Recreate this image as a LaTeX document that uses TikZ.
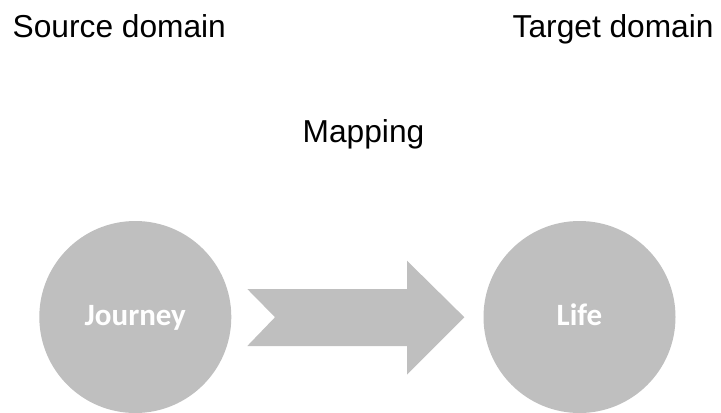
\documentclass[tikz,border=0pt]{standalone}
\usepackage{fontspec}
\setmainfont{Liberation Sans}
\newfontfamily\labelfont{Carlito}
\definecolor{shapegray}{RGB}{191,191,191}
\begin{document}
\begin{tikzpicture}[x=1bp,y=-1bp,
  title/.style={font=\fontsize{31.7bp}{36bp}\selectfont, text=black, inner sep=0pt, anchor=base west},
  domaincircle/.style={circle, fill=shapegray, minimum size=192bp, inner sep=0pt,
    font=\labelfont\bfseries\fontsize{31bp}{36bp}\selectfont, text=white,
    text height=16bp, text depth=0bp},
]
\useasboundingbox (0,0) rectangle (721,412);
\node[title] (src) at (12.5,37) {Source domain};
\node[title] (tgt) at (512.5,37) {Target domain};
\node[title] (map) at (302.5,142) {Mapping};
\node[domaincircle] (journey) at (135.3,317) {Journey};
\node[domaincircle] (life) at (579.5,317) {Life};
\fill[shapegray] (247.3,289) -- (407,289) -- (407,260.7) -- (464.3,317.2)
  -- (407,374.7) -- (407,346) -- (247.3,346) -- (275,317.2) -- cycle;
\end{tikzpicture}
\end{document}
